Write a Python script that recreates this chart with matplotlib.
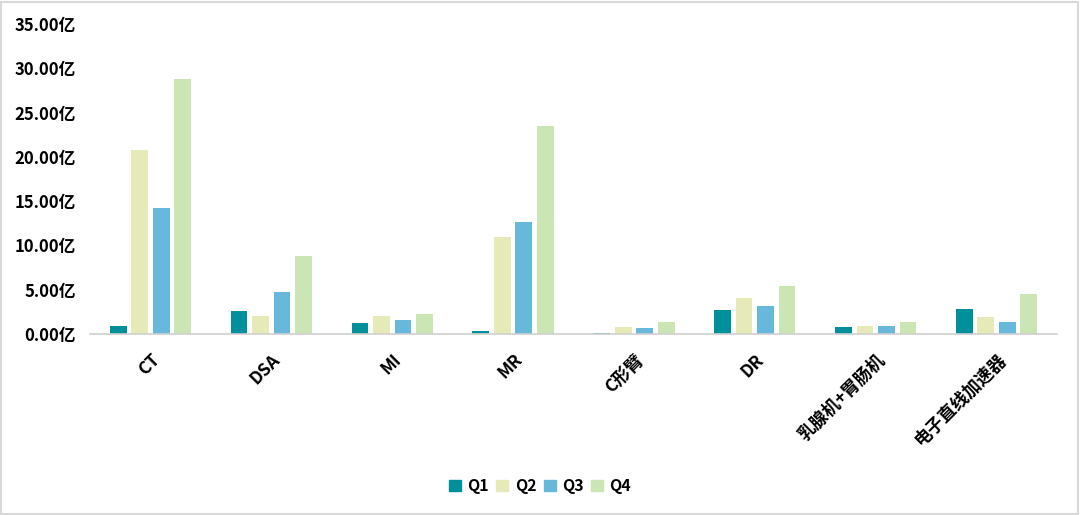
import matplotlib
matplotlib.use("Agg")
import matplotlib.pyplot as plt
import numpy as np
from matplotlib.patches import Rectangle

plt.rcParams['font.family'] = ['Noto Sans CJK SC', 'DejaVu Sans']

categories = ["CT", "DSA", "MI", "MR", "C形臂", "DR", "乳腺机+胃肠机", "电子直线加速器"]
q1 = [0.9, 2.6, 1.2, 0.37, 0.1, 2.7, 0.8, 2.8]
q2 = [20.8, 2.0, 2.0, 10.9, 0.8, 4.1, 0.9, 1.9]
q3 = [14.2, 4.7, 1.55, 12.6, 0.7, 3.15, 0.9, 1.3]
q4 = [28.8, 8.8, 2.25, 23.5, 1.35, 5.45, 1.3, 4.5]
series_names = ["Q1", "Q2", "Q3", "Q4"]
colors = ["#00909B", "#E6EAB8", "#68B8DC", "#CBE6B4"]
yticks = [0, 5, 10, 15, 20, 25, 30, 35]

fig = plt.figure(figsize=(10.8, 5.15), dpi=100)
ax = fig.add_axes([90/1080, (515-334)/515, (1057-90)/1080, (334-24)/515])

x = np.arange(len(categories))
slot = 0.178
width = 0.138
for i, (vals, name, c) in enumerate(zip([q1, q2, q3, q4], series_names, colors)):
    ax.bar(x + (i - 1.5) * slot, vals, width=width, color=c, label=name, linewidth=0)

ax.set_xlim(-0.5, len(categories) - 0.5)
ax.set_ylim(0, 35)
ax.set_yticks(yticks)
ax.set_yticklabels([f"{v:.2f}亿" for v in yticks], fontsize=12, fontweight='bold')
ax.set_xticks(x)
ax.set_xticklabels(categories, rotation=45, ha='right', rotation_mode='anchor',
                   fontsize=12.5, fontweight='bold')
ax.tick_params(axis='both', length=0)
ax.tick_params(axis='x', pad=12)
ax.tick_params(axis='y', pad=10)
for s in ['top', 'right', 'left']:
    ax.spines[s].set_visible(False)
ax.spines['bottom'].set_color('#D0D0D0')
ax.spines['bottom'].set_linewidth(1.2)

handles = [Rectangle((0, 0), 1, 1, color=c) for c in colors]
fig.legend(handles, series_names, loc='center', bbox_to_anchor=(0.5, (515-486)/515),
           ncol=4, frameon=False, handlelength=0.75, handleheight=0.75,
           handletextpad=0.4, columnspacing=0.45,
           prop={'weight': 'bold', 'size': 11.5})

fig.patches.append(Rectangle((0.001, 0.002), 0.997, 0.995, transform=fig.transFigure,
                             fill=False, edgecolor='#D9D9D9', linewidth=1.5))

fig.savefig("out.png", dpi=100)
